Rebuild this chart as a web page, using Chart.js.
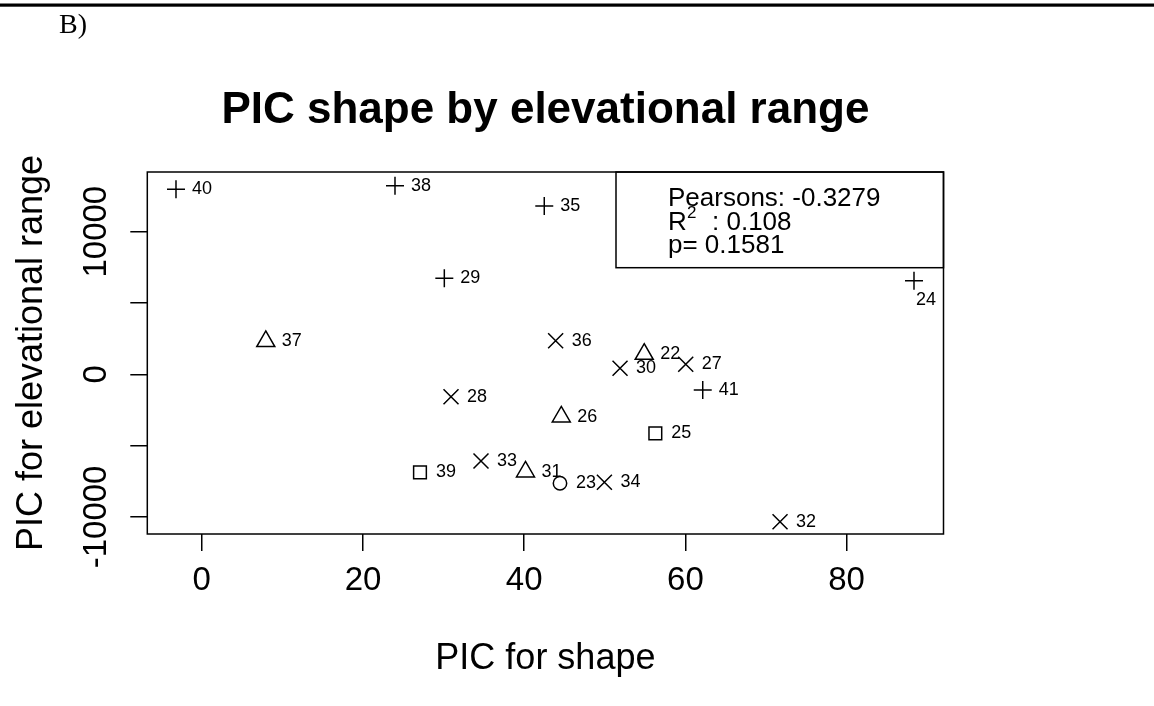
<!DOCTYPE html>
<html>
<head>
<meta charset="utf-8">
<script src="https://cdn.jsdelivr.net/npm/chart.js@4.4.0/dist/chart.umd.min.js"></script>
<style>
  html, body { margin: 0; padding: 0; background: #fff; }
  #wrap { width: 1154px; height: 706px; position: relative; }
  canvas { display: block; }
</style>
</head>
<body>
<div id="wrap"><canvas id="c" width="1154" height="706"></canvas></div>
<script>
// ---- Data ----
const plusIds = ['40', '38', '35', '29', '24', '41'];
const plusX   = [-3.20, 23.97, 42.49, 30.09, 88.36, 62.15];
const plusY   = [12973, 13226, 11802, 6732, 6564, -1101];

const crossIds = ['36', '30', '27', '28', '33', '34', '32'];
const crossX   = [43.90, 51.89, 60.04, 30.92, 34.64, 49.95, 71.74];
const crossY   = [2356, 421, 701, -1571, -6080, -7574, -10337];

const triIds = ['37', '22', '26', '31'];
const triX   = [7.94, 54.89, 44.60, 40.16];
const triY   = [2307, 1417, -2980, -6837];

const squareIds = ['25', '39'];
const squareX   = [56.27, 27.07];
const squareY   = [-4137, -6872];

const circleIds = ['23'];
const circleX   = [44.44];
const circleY   = [-7644];

const xTicks = [0, 20, 40, 60, 80];
const yTicks = [-10000, -5000, 0, 5000, 10000];
const yTickLabels = ['-10000', '', '0', '', '10000'];

const titleText = 'PIC shape by elevational range';
const xTitle = 'PIC for shape';
const yTitle = 'PIC for elevational range';
const statPearson = 'Pearsons: -0.3279';
const statR2 = ': 0.108';
const statP = 'p= 0.1581';
const panelTag = 'B)';
const labelsBelow = ['24'];

// ---- helpers ----
const SANS = "'Liberation Sans', Arial, Helvetica, sans-serif";
const SERIF = "'Liberation Serif', 'Times New Roman', serif";
function pts(xs, ys) { return xs.map((x, i) => ({ x: x, y: ys[i] })); }
function ds(label, ids, xs, ys, style, radius) {
  return {
    label: label, ids: ids, data: pts(xs, ys),
    pointStyle: style, pointRadius: radius, pointHoverRadius: radius,
    borderColor: '#000', backgroundColor: 'rgba(0,0,0,0)',
    pointBorderWidth: 1.5, borderWidth: 1.5, showLine: false
  };
}

const decor = {
  id: 'decor',
  beforeDraw(chart) {
    const ctx = chart.ctx;
    ctx.save();
    ctx.fillStyle = '#fff';
    ctx.fillRect(0, 0, chart.width, chart.height);
    ctx.fillStyle = '#000';
    ctx.fillRect(0, 3.5, chart.width, 3.2);
    ctx.font = '28px ' + SERIF;
    ctx.textBaseline = 'alphabetic';
    ctx.textAlign = 'left';
    ctx.fillText(panelTag, 59, 33);
    ctx.restore();
  },
  afterDatasetsDraw(chart) {
    const ctx = chart.ctx;
    const a = chart.chartArea;
    ctx.save();
    ctx.beginPath();
    ctx.rect(a.left, a.top, a.right - a.left, a.bottom - a.top);
    ctx.clip();
    ctx.fillStyle = '#000';
    ctx.font = '18px ' + SANS;
    ctx.textAlign = 'left';
    ctx.textBaseline = 'middle';
    chart.data.datasets.forEach((d, di) => {
      const meta = chart.getDatasetMeta(di);
      meta.data.forEach((el, i) => {
        const id = d.ids[i];
        if (labelsBelow.includes(id)) {
          ctx.fillText(id, el.x + 2, el.y + 19);
        } else {
          ctx.fillText(id, el.x + 16, el.y);
        }
      });
    });
    ctx.restore();
  },
  afterDraw(chart) {
    const ctx = chart.ctx;
    const a = chart.chartArea;
    ctx.save();
    ctx.strokeStyle = '#000';
    ctx.lineWidth = 1.5;
    ctx.strokeRect(a.left, a.top, a.right - a.left, a.bottom - a.top);

    // title
    ctx.fillStyle = '#000';
    ctx.textAlign = 'center';
    ctx.textBaseline = 'alphabetic';
    ctx.font = 'bold 44px ' + SANS;
    ctx.fillText(titleText, (a.left + a.right) / 2, 123);

    // axis titles
    ctx.font = '36px ' + SANS;
    ctx.fillText(xTitle, (a.left + a.right) / 2, 669);
    ctx.save();
    ctx.translate(42, (a.top + a.bottom) / 2);
    ctx.rotate(-Math.PI / 2);
    ctx.fillText(yTitle, 0, 0);
    ctx.restore();

    // stats box
    const bx = 616, by = a.top, bw = a.right - 616, bh = 267.7 - a.top;
    ctx.strokeRect(bx, by, bw, bh);
    ctx.textAlign = 'left';
    ctx.font = '26px ' + SANS;
    ctx.fillText(statPearson, 668, 205.5);
    ctx.fillText('R', 668, 229.5);
    ctx.fillText(statP, 668, 253.3);
    ctx.fillText(statR2, 712, 229.5);
    ctx.font = '17px ' + SANS;
    ctx.fillText('2', 687, 218);
    ctx.restore();
  }
};

const chart = new Chart(document.getElementById('c'), {
  type: 'scatter',
  data: {
    datasets: [
      ds('cross', plusIds, plusX, plusY, 'cross', 9),
      ds('crossRot', crossIds, crossX, crossY, 'crossRot', 10.6),
      ds('triangle', triIds, triX, triY, 'triangle', 10.4),
      ds('square', squareIds, squareX, squareY, 'rect', 9),
      ds('circle', circleIds, circleX, circleY, 'circle', 6.7)
    ]
  },
  options: {
    responsive: false,
    devicePixelRatio: 1,
    animation: false,
    events: [],
    layout: { padding: { top: 172, right: 210.5, left: 0, bottom: 0 } },
    plugins: {
      legend: { display: false },
      title: { display: false },
      tooltip: { enabled: false }
    },
    scales: {
      x: {
        type: 'linear',
        position: 'bottom',
        min: -6.76,
        max: 92.02,
        afterFit(s) { s.height = 172; },
        afterBuildTicks(s) { s.ticks = xTicks.map(v => ({ value: v })); },
        grid: { display: true, drawOnChartArea: false, drawTicks: true, tickLength: 17, color: '#000', lineWidth: 1.5 },
        border: { display: false },
        ticks: {
          color: '#000',
          font: { family: SANS, size: 33, lineHeight: 1.2 },
          padding: 10,
          maxRotation: 0, minRotation: 0,
          autoSkip: false,
          callback: (v) => String(v)
        }
      },
      y: {
        type: 'linear',
        position: 'left',
        min: -11199,
        max: 14186,
        afterFit(s) { s.width = 147.3; },
        afterBuildTicks(s) { s.ticks = yTicks.map(v => ({ value: v })); },
        grid: { display: true, drawOnChartArea: false, drawTicks: true, tickLength: 17, color: '#000', lineWidth: 1.5 },
        border: { display: false },
        ticks: {
          color: '#000',
          font: { family: SANS, size: 33, lineHeight: 1.2 },
          padding: -18,
          minRotation: 90, maxRotation: 90,
          crossAlign: 'center',
          autoSkip: false,
          callback: (v) => { const i = yTicks.indexOf(v); return i >= 0 ? yTickLabels[i] : ''; }
        }
      }
    }
  },
  plugins: [decor]
});
</script>
</body>
</html>
